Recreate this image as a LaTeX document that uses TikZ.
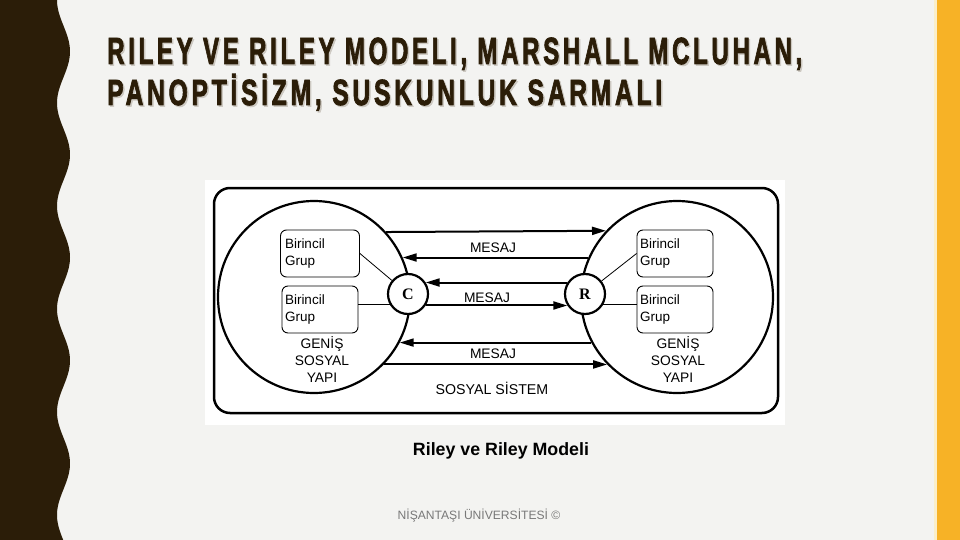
\documentclass[tikz,border=0pt]{standalone}
\usepackage{fontspec}
\setmainfont{Liberation Sans}
\newfontfamily\serifb{Liberation Serif}
\newfontfamily\titlefont[LetterSpace=15,BoldFeatures={FakeBold=2.5}]{Liberation Sans}
\usetikzlibrary{arrows.meta}
\definecolor{bg}{RGB}{243,243,241}
\definecolor{darkbrown}{RGB}{43,29,8}
\definecolor{shadowc}{RGB}{205,201,194}
\definecolor{orangebar}{RGB}{247,178,38}
\definecolor{paleline}{RGB}{251,238,200}
\definecolor{footgray}{RGB}{120,120,120}
\newcommand{\ttlbox}[3]{\resizebox{#1}{#2}{\titlefont\bfseries\rule{0pt}{\fontcharht\font`\H}\smash{#3}}}
\tikzset{
  bigc/.style={circle, draw, line width=2.2pt, minimum size=192pt, inner sep=0pt},
  smallc/.style={circle, draw, line width=2.2pt, fill=white, minimum size=40pt, inner sep=0pt, font=\serifb\bfseries\fontsize{16}{16}\selectfont},
  grp/.style={draw, rounded corners=6pt, line width=0.9pt, minimum width=76pt, minimum height=47pt, text width=70pt, align=left, inner xsep=3pt, font=\fontsize{13.5}{17}\selectfont},
  msg/.style={line width=2pt, -{Triangle[length=14pt,width=8pt]}},
  thin/.style={line width=0.8pt},
  lbl/.style={inner sep=0pt, font=\fontsize{13.8}{17}\selectfont, align=center},
  ttl/.style={inner sep=0pt, anchor=base west, text=darkbrown},
  ttlsh/.style={inner sep=0pt, anchor=base west, text=shadowc}
}
\begin{document}
\begin{tikzpicture}[x=1pt,y=-1pt]
\useasboundingbox (0,0) rectangle (960,540);
\fill[bg] (0,0) rectangle (960,540);
% left wave
\fill[darkbrown] (0,0) -- plot[domain=0:540,samples=240] ({63.5-6.5*cos(3.4951*\x)},\x) -- (0,540) -- cycle;
% right bar
\fill[paleline] (934,0) rectangle (937,540);
\fill[orangebar] (937,0) rectangle (960,540);
% title
\node[ttlsh] (t1s) at (108.5,65.5) {\ttlbox{695pt}{26pt}{RILEY VE RILEY MODELI, MARSHALL MCLUHAN,}};
\node[ttl] (t1) at (107,64) {\ttlbox{695pt}{26pt}{RILEY VE RILEY MODELI, MARSHALL MCLUHAN,}};
\node[ttlsh] (t2s) at (108.5,106.5) {\ttlbox{555pt}{25pt}{PANOPTİSİZM, SUSKUNLUK SARMALI}};
\node[ttl] (t2) at (107,105) {\ttlbox{555pt}{25pt}{PANOPTİSİZM, SUSKUNLUK SARMALI}};
% diagram background
\fill[white] (205,180) rectangle (785,425);
\draw[line width=2.5pt, rounded corners=16pt] (214,188) rectangle (778,413);
% big circles
\node[bigc] (LC) at (314,297) {};
\node[bigc] (RC) at (677,297) {};
% boxes
\node[grp, inner xsep=4.5pt] (LB1) at (320,253.5) {Birincil\\Grup};
\node[grp] (LB2) at (320,309.5) {Birincil\\Grup};
\node[grp] (RB1) at (675,253.5) {Birincil\\Grup};
\node[grp] (RB2) at (675,309.5) {Birincil\\Grup};
% labels
\node[lbl] (LG) at (322,360) {GENİŞ\\SOSYAL\\YAPI};
\node[lbl] (RG) at (678,360) {GENİŞ\\SOSYAL\\YAPI};
\node[lbl] (M1) at (493,248) {MESAJ};
\node[lbl] (M2) at (487,298) {MESAJ};
\node[lbl] (M3) at (493,354) {MESAJ};
\node[lbl, font=\fontsize{14.2}{15}\selectfont] (SS) at (492,388) {SOSYAL SİSTEM};
% small circles
\node[smallc] (C) at (408,294) {C};
\node[smallc] (R) at (585,294) {R};
% arrows
\draw[msg] (LC.42.6) -- (RC.137.4);
\draw[msg] (RC.156) -- (LC.24);
\draw[msg] (R.147) -- (C.33);
\draw[msg] (C.-33) -- (R.213);
\draw[msg] (RC.208) -- (LC.-28);
\draw[msg] (LC.-44.3) -- (RC.224.3);
% group links
\draw[thin] (LB1.east) -- (C);
\draw[thin] (C.210) -- (C.210 -| LB2.east);
\draw[thin] (R) -- (RB1.west);
\draw[thin] (R.330) -- (R.330 -| RB2.west);
% caption and footer
\node[inner sep=0pt, font=\bfseries\fontsize{17.8}{18}\selectfont] (cap) at (501,451) {Riley ve Riley Modeli};
\node[inner sep=0pt, text=footgray, font=\fontsize{12.1}{12}\selectfont] (foot) at (479,516) {NİŞANTAŞI ÜNİVERSİTESİ ©};
\end{tikzpicture}
\end{document}
